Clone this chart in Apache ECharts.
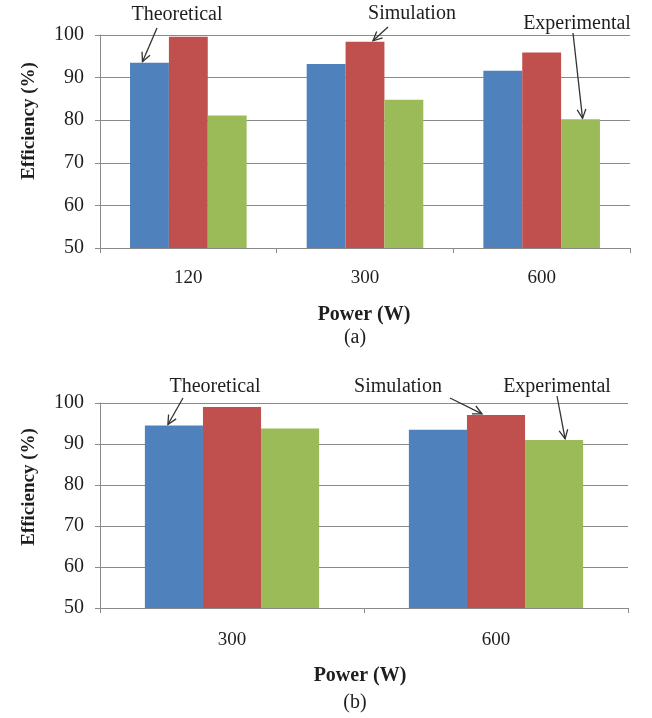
<!DOCTYPE html>
<html>
<head>
<meta charset="utf-8">
<script src="https://cdn.jsdelivr.net/npm/echarts@6/dist/echarts.min.js"></script>
<style>
  html, body { margin: 0; padding: 0; background: #ffffff; }
  #chart { width: 652px; height: 718px; }
</style>
</head>
<body>
<div id="chart"></div>
<script>
// Efficiency comparison: theoretical vs simulation vs experimental
const seriesNames = ['Theoretical', 'Simulation', 'Experimental'];

// Panel (a)
const powerA = ['120', '300', '600'];
const theoreticalA = [93.5, 93.2, 91.6];
const simulationA = [99.6, 98.4, 95.9];
const experimentalA = [81.1, 84.8, 80.2];

// Panel (b)
const powerB = ['300', '600'];
const theoreticalB = [94.5, 93.5];
const simulationB = [99.0, 97.1];
const experimentalB = [93.8, 91.0];

const yMin = 50, yMax = 100, yStep = 10;
const colors = ['#4F81BD', '#C0504D', '#9BBB59'];

const serif = '"Liberation Serif", "Times New Roman", serif';
const textColor = '#1e1e1e';
const lineColor = '#8a8a8a';
const gap = 0.34; // barCategoryGap fraction

const chart = echarts.init(document.getElementById('chart'), null, { renderer: 'canvas' });

const grids = [
  { left: 100, top: 35, width: 530, height: 213 },
  { left: 100, top: 403, width: 528, height: 205 }
];

function xAxisFor(idx, cats, margin) {
  return {
    type: 'category', gridIndex: idx, data: cats,
    axisLine: { lineStyle: { color: lineColor, width: 1 } },
    axisTick: { show: true, length: 5, lineStyle: { color: lineColor } },
    axisLabel: { color: textColor, fontFamily: serif, fontSize: 19, margin: margin }
  };
}
function yAxisFor(idx) {
  return {
    type: 'value', gridIndex: idx, min: yMin, max: yMax, interval: yStep,
    axisLine: { show: true, lineStyle: { color: lineColor, width: 1 } },
    axisTick: { show: true, length: 5, lineStyle: { color: lineColor } },
    splitLine: { lineStyle: { color: lineColor, width: 1 } },
    axisLabel: { color: textColor, fontFamily: serif, fontSize: 20, margin: 16 }
  };
}

const panelData = [
  [theoreticalA, simulationA, experimentalA],
  [theoreticalB, simulationB, experimentalB]
];
const panelCats = [powerA, powerB];

const series = [];
panelData.forEach((set, p) => {
  set.forEach((vals, s) => {
    series.push({
      name: seriesNames[s], type: 'bar',
      xAxisIndex: p, yAxisIndex: p,
      data: vals,
      barGap: '0%', barCategoryGap: (gap * 100) + '%',
      itemStyle: { color: colors[s] },
      silent: true
    });
  });
});

chart.setOption({
  animation: false,
  backgroundColor: '#ffffff',
  grid: grids,
  xAxis: [xAxisFor(0, powerA, 21), xAxisFor(1, powerB, 23)],
  yAxis: [yAxisFor(0), yAxisFor(1)],
  series: series
});

// Annotation callouts: label, panel, series index, category index,
// label centre, arrow tail, and horizontal nudge of the tip within the bar.
const callouts = [
  { text: 'Theoretical', panel: 0, s: 0, c: 0, lx: 177, ly: 15, tx: 157, ty: 28, dx: -7 },
  { text: 'Simulation', panel: 0, s: 1, c: 1, lx: 412, ly: 14, tx: 388, ty: 27, dx: 8 },
  { text: 'Experimental', panel: 0, s: 2, c: 2, lx: 577, ly: 24, tx: 573, ty: 33, dx: 2 },
  { text: 'Theoretical', panel: 1, s: 0, c: 0, lx: 215, ly: 387, tx: 183, ty: 398, dx: -6 },
  { text: 'Simulation', panel: 1, s: 1, c: 1, lx: 398, ly: 387, tx: 450, ty: 398, dx: -14 },
  { text: 'Experimental', panel: 1, s: 2, c: 1, lx: 557, ly: 387, tx: 557, ty: 396, dx: 11 }
];

const graphics = [];
callouts.forEach(cl => {
  const vals = panelData[cl.panel][cl.s];
  const pt = chart.convertToPixel({ gridIndex: cl.panel }, [cl.c, vals[cl.c]]);
  const band = grids[cl.panel].width / panelCats[cl.panel].length;
  const barW = band * (1 - gap) / 3;
  const tipX = pt[0] + (cl.s - 1) * barW + cl.dx;
  const tipY = pt[1] - 1;
  const ang = Math.atan2(tipY - cl.ty, tipX - cl.tx);
  const headLen = 10, spread = 0.45;
  const h1 = [tipX - headLen * Math.cos(ang - spread), tipY - headLen * Math.sin(ang - spread)];
  const h2 = [tipX - headLen * Math.cos(ang + spread), tipY - headLen * Math.sin(ang + spread)];
  graphics.push({
    type: 'polyline', silent: true,
    shape: { points: [[cl.tx, cl.ty], [tipX, tipY]] },
    style: { stroke: '#333333', lineWidth: 1.3, fill: null }
  });
  graphics.push({
    type: 'polyline', silent: true,
    shape: { points: [h1, [tipX, tipY], h2] },
    style: { stroke: '#333333', lineWidth: 1.3, fill: null }
  });
  graphics.push({
    type: 'text', silent: true, x: cl.lx, y: cl.ly,
    style: { text: cl.text, fill: textColor, font: '20px ' + serif, align: 'center', verticalAlign: 'middle' }
  });
});

// Axis titles and panel captions
const titles = [
  { text: 'Efficiency (%)', x: 29, y: 121, rot: Math.PI / 2, bold: true, size: 19 },
  { text: 'Efficiency (%)', x: 29, y: 487, rot: Math.PI / 2, bold: true, size: 19 },
  { text: 'Power (W)', x: 364, y: 315, rot: 0, bold: true, size: 20 },
  { text: 'Power (W)', x: 360, y: 676, rot: 0, bold: true, size: 20 },
  { text: '(a)', x: 355, y: 338, rot: 0, bold: false, size: 20 },
  { text: '(b)', x: 355, y: 703, rot: 0, bold: false, size: 20 }
];
titles.forEach(t => {
  graphics.push({
    type: 'text', silent: true, x: t.x, y: t.y, rotation: t.rot,
    style: {
      text: t.text, fill: textColor,
      font: (t.bold ? 'bold ' : '') + t.size + 'px ' + serif,
      align: 'center', verticalAlign: 'middle'
    }
  });
});

chart.setOption({ graphic: graphics });
</script>
</body>
</html>
